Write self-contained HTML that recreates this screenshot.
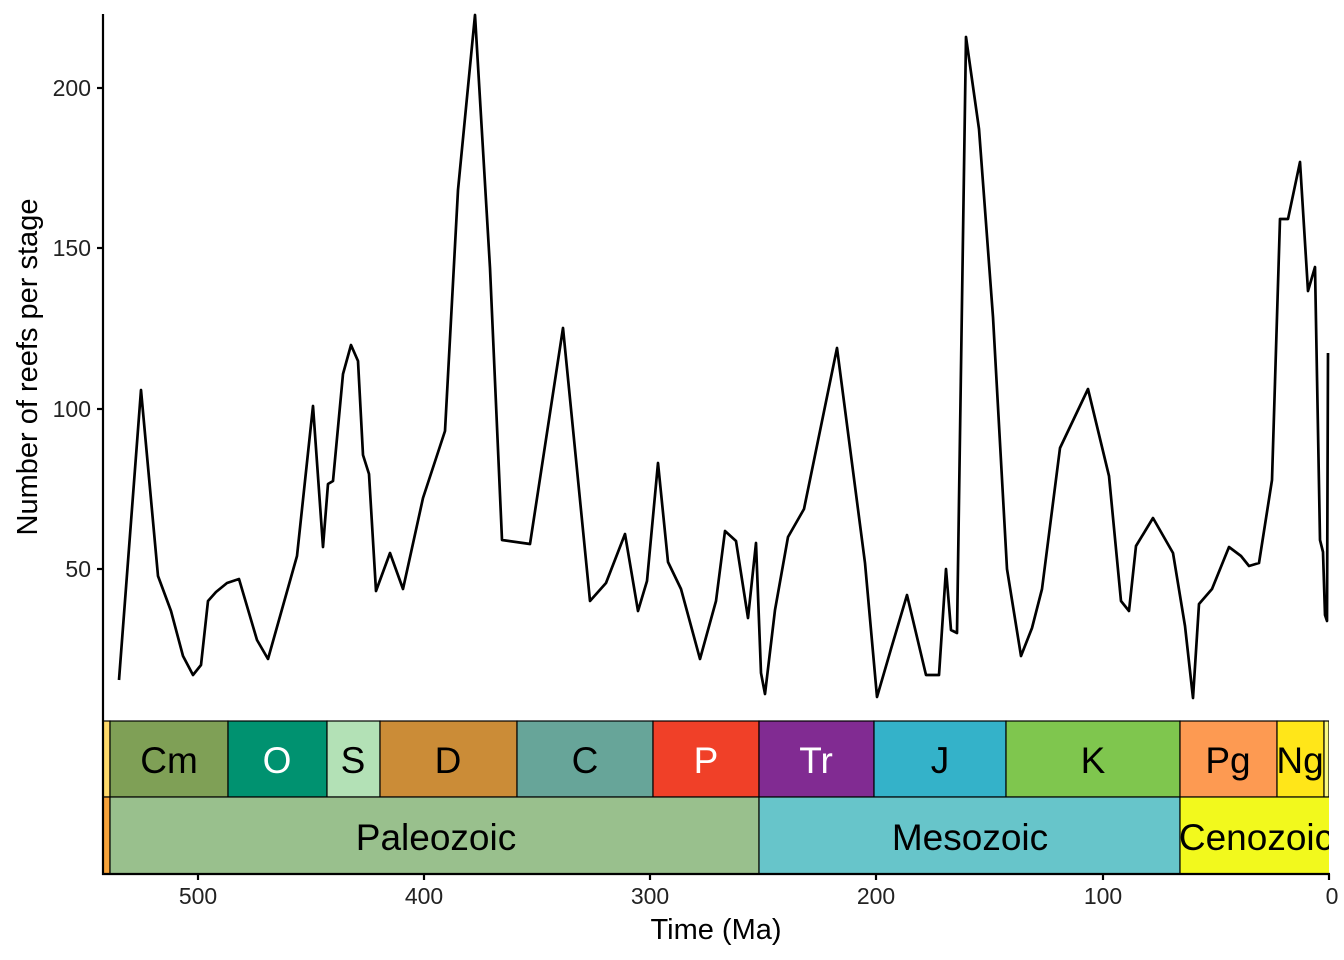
<!DOCTYPE html>
<html><head><meta charset="utf-8"><style>body{margin:0;background:#fff}svg{display:block}text{font-family:"Liberation Sans",Arial,sans-serif}</style></head>
<body>
<svg width="1344" height="960" viewBox="0 0 1344 960" xmlns="http://www.w3.org/2000/svg">
<defs><clipPath id="c"><rect x="103" y="0" width="1226" height="960"/></clipPath></defs>
<polyline fill="none" stroke="#000" stroke-width="2.7" stroke-linejoin="round" points="119,680 141,390 158,576 171,611 183,656 193,675 201,665 208,601 216,592 227,583 239,579 257,640 268,659 297,556 313,406 323,547 328,484 333,481 343,374 351,345 358,361 363,455 369,474 376,591 390,553 403,589 423,498 445,431 458,190 475,15 490,268 502,540 530,544 563,328 590,601 606,583 625,534 638,611 647,581 658,463 668,562 681,589 700,659 716,601 725,531 736,541 748,618 756,543 761,673 765,694 775,610 788,537 804,509 837,348 865,563 877,697 891,649 907,595 926,675 939,675 946,569 951,630 957,633 966,37 979,129 993,317 1007,569 1021,656 1032,628 1042,589 1060,448 1088,389 1109,476 1121,601 1129,611 1136,546 1153,518 1173,553 1185,626 1193,698 1199,604 1212,589 1229,547 1241,556 1249,566 1259,563 1272,480 1280,219 1288,219 1300,162 1308,291 1315,267 1320,540 1323,552 1325,615 1327,621 1328,353"/>
<g stroke="#000" stroke-width="1.2" clip-path="url(#c)">
<rect x="103" y="721" width="7" height="76" fill="#fed96a"/>
<rect x="110" y="721" width="118" height="76" fill="#7fa056"/>
<rect x="228" y="721" width="99" height="76" fill="#009270"/>
<rect x="327" y="721" width="53" height="76" fill="#b3e1b6"/>
<rect x="380" y="721" width="137" height="76" fill="#cb8c37"/>
<rect x="517" y="721" width="136" height="76" fill="#67a599"/>
<rect x="653" y="721" width="106" height="76" fill="#f04028"/>
<rect x="759" y="721" width="115" height="76" fill="#812b92"/>
<rect x="874" y="721" width="132" height="76" fill="#34b2c9"/>
<rect x="1006" y="721" width="174" height="76" fill="#7fc64e"/>
<rect x="1180" y="721" width="97" height="76" fill="#fd9a52"/>
<rect x="1277" y="721" width="47" height="76" fill="#ffe619"/>
<rect x="1324" y="721" width="5" height="76" fill="#f9f97f"/>
<rect x="103" y="797" width="7" height="77" fill="#f7a33a"/>
<rect x="110" y="797" width="649" height="77" fill="#99c08d"/>
<rect x="759" y="797" width="421" height="77" fill="#67c5ca"/>
<rect x="1180" y="797" width="160" height="77" fill="#f2f91d"/>
</g>
<g font-size="37" text-anchor="middle" clip-path="url(#c)">
<text x="169" y="773">Cm</text><text x="277" y="773" fill="#fff">O</text><text x="353" y="773">S</text>
<text x="448" y="773">D</text><text x="585" y="773">C</text><text x="706" y="773" fill="#fff">P</text>
<text x="816" y="773" fill="#fff">Tr</text><text x="940" y="773">J</text><text x="1093" y="773">K</text>
<text x="1228" y="773">Pg</text><text x="1300" y="773">Ng</text>
<text x="436" y="850">Paleozoic</text><text x="970" y="850">Mesozoic</text><text x="1256" y="850">Cenozoic</text>
</g>
<g stroke="#000" stroke-width="2.2" fill="none">
<line x1="103" y1="14" x2="103" y2="875"/>
<line x1="102" y1="874" x2="1330" y2="874"/>
<line x1="97" y1="88" x2="103" y2="88"/><line x1="97" y1="248" x2="103" y2="248"/>
<line x1="97" y1="409" x2="103" y2="409"/><line x1="97" y1="569" x2="103" y2="569"/>
<line x1="198" y1="874" x2="198" y2="880"/><line x1="424" y1="874" x2="424" y2="880"/>
<line x1="650" y1="874" x2="650" y2="880"/><line x1="876" y1="874" x2="876" y2="880"/>
<line x1="1103" y1="874" x2="1103" y2="880"/><line x1="1329" y1="874" x2="1329" y2="880"/>
</g>
<g font-size="23" fill="#222" text-anchor="end">
<text x="91" y="96">200</text><text x="91" y="256">150</text><text x="91" y="417">100</text><text x="91" y="577">50</text>
</g>
<g font-size="23" fill="#222" text-anchor="middle">
<text x="198" y="904">500</text><text x="424" y="904">400</text><text x="650" y="904">300</text>
<text x="876" y="904">200</text><text x="1103" y="904">100</text><text x="1332" y="904">0</text>
</g>
<text x="716" y="939" font-size="29" text-anchor="middle">Time (Ma)</text>
<text transform="translate(37,367) rotate(-90)" font-size="29" text-anchor="middle">Number of reefs per stage</text>
</svg>
</body></html>
